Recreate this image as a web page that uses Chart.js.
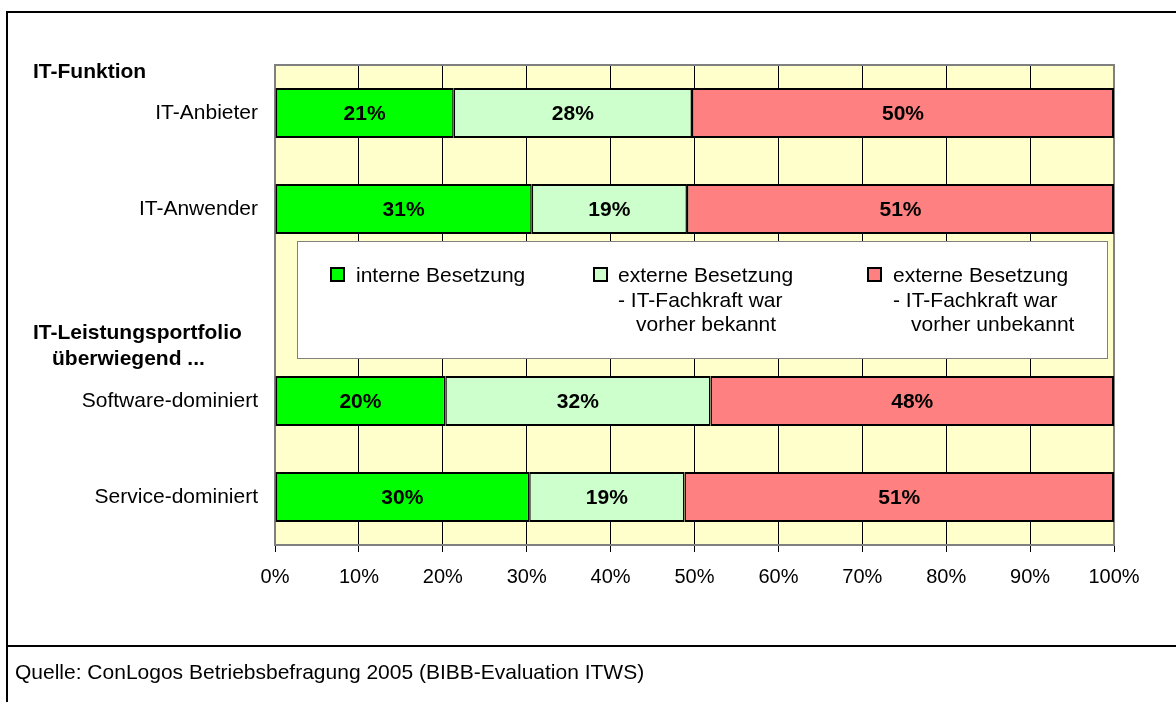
<!DOCTYPE html>
<html>
<head>
<meta charset="utf-8">
<script src="https://cdn.jsdelivr.net/npm/chart.js@4/dist/chart.umd.min.js"></script>
<style>
  html, body { margin: 0; padding: 0; background: #fff; }
  #wrap { position: relative; width: 1176px; height: 702px; }
</style>
</head>
<body>
<div id="wrap"><canvas id="c" width="1176" height="702"></canvas></div>
<script>
// ---- data ----
const categories = ['IT-Anbieter', 'IT-Anwender', '', 'Software-dominiert', 'Service-dominiert'];
const interneBesetzung = [21.3, 30.6, null, 20.3, 30.3];
const externBekannt    = [28.4, 18.5, null, 31.6, 18.5];
const externUnbekannt  = [50.3, 50.9, null, 48.1, 51.2];
const seriesLabels = [
  ['interne Besetzung'],
  ['externe Besetzung', '- IT-Fachkraft war', 'vorher bekannt'],
  ['externe Besetzung', '- IT-Fachkraft war', 'vorher unbekannt']
];
const seriesColors = ['#00FF00', '#CCFFCC', '#FF8080'];
const tickValues = [0, 10, 20, 30, 40, 50, 60, 70, 80, 90, 100];
const groupHeaders = [['IT-Funktion'], ['IT-Leistungsportfolio', 'überwiegend ...']];
const sourceNote = 'Quelle: ConLogos Betriebsbefragung 2005 (BIBB-Evaluation ITWS)';

const FONT = '"Liberation Sans", Arial, sans-serif';

const bgPlugin = {
  id: 'bg',
  beforeDraw(chart) {
    const ctx = chart.ctx, a = chart.chartArea;
    ctx.save();
    ctx.fillStyle = '#fff';
    ctx.fillRect(0, 0, chart.width, chart.height);
    ctx.fillStyle = '#FFFFCC';
    ctx.fillRect(a.left, a.top, a.right - a.left, a.bottom - a.top);
    ctx.restore();
  },
  beforeDatasetsDraw(chart) {
    const ctx = chart.ctx, a = chart.chartArea;
    ctx.save();
    ctx.strokeStyle = '#808080';
    ctx.lineWidth = 2;
    ctx.beginPath();
    ctx.moveTo(a.left, a.top);
    ctx.lineTo(a.right, a.top);
    ctx.lineTo(a.right, a.bottom);
    ctx.stroke();
    ctx.restore();
  }
};

const labelPlugin = {
  id: 'vals',
  afterDatasetsDraw(chart) {
    const ctx = chart.ctx;
    ctx.save();
    ctx.font = 'bold 21px ' + FONT;
    ctx.fillStyle = '#000';
    ctx.textAlign = 'center';
    ctx.textBaseline = 'middle';
    chart.data.datasets.forEach((ds, di) => {
      const meta = chart.getDatasetMeta(di);
      meta.data.forEach((el, i) => {
        const v = ds.data[i];
        if (v == null) return;
        const p = el.getProps(['x', 'base', 'y'], true);
        ctx.fillText(Math.round(v) + '%', (p.x + p.base) / 2, p.y + 1);
      });
    });
    ctx.restore();
  }
};

const decoPlugin = {
  id: 'deco',
  afterDraw(chart) {
    const ctx = chart.ctx;
    ctx.save();
    // legend box
    ctx.fillStyle = '#fff';
    ctx.fillRect(297, 241, 810, 117);
    ctx.strokeStyle = '#808080';
    ctx.lineWidth = 1;
    ctx.strokeRect(297.5, 241.5, 810, 117);
    const itemX = [330, 593, 867];
    const textX = [356, 618, 893];
    const indent = [0, 0, 18];
    ctx.font = '21px ' + FONT;
    ctx.textAlign = 'left';
    ctx.textBaseline = 'alphabetic';
    seriesLabels.forEach((lines, i) => {
      ctx.fillStyle = '#000';
      ctx.fillRect(itemX[i], 267, 15, 15);
      ctx.fillStyle = seriesColors[i];
      ctx.fillRect(itemX[i] + 2, 269, 11, 11);
      ctx.fillStyle = '#000';
      lines.forEach((t, j) => {
        ctx.fillText(t, textX[i] + indent[j], 282 + j * 24.5);
      });
    });
    // group headers
    ctx.font = 'bold 21px ' + FONT;
    ctx.fillText(groupHeaders[0][0], 33, 78);
    ctx.fillText(groupHeaders[1][0], 33, 339);
    ctx.fillText(groupHeaders[1][1], 52, 365);
    // frame
    ctx.strokeStyle = '#000';
    ctx.lineWidth = 2;
    ctx.beginPath();
    ctx.moveTo(1176, 12); ctx.lineTo(7, 12); ctx.lineTo(7, 702);
    ctx.moveTo(7, 646); ctx.lineTo(1176, 646);
    ctx.stroke();
    ctx.font = '21px ' + FONT;
    ctx.fillText(sourceNote, 15, 679);
    ctx.restore();
  }
};

const mk = (label, data, color, bw) => ({
  label, data, backgroundColor: color, borderColor: '#000',
  borderWidth: bw, borderSkipped: false, barPercentage: 0.52, categoryPercentage: 1.0
});

new Chart(document.getElementById('c'), {
  type: 'bar',
  data: {
    labels: categories,
    datasets: [
      mk(seriesLabels[0].join(' '), interneBesetzung, seriesColors[0], {left: 2, right: 1.5, top: 2, bottom: 2}),
      mk(seriesLabels[1].join(' '), externBekannt, seriesColors[1], {left: 1.5, right: 1.5, top: 2, bottom: 2}),
      mk(seriesLabels[2].join(' '), externUnbekannt, seriesColors[2], {left: 1.5, right: 2, top: 2, bottom: 2})
    ]
  },
  options: {
    indexAxis: 'y',
    responsive: false,
    animation: false,
    events: [],
    layout: { padding: { top: 65, right: 62, bottom: 0, left: 0 } },
    plugins: { legend: { display: false }, tooltip: { enabled: false } },
    scales: {
      x: {
        stacked: true, min: 0, max: 100,
        afterBuildTicks(scale) { scale.ticks = tickValues.map(v => ({ value: v })); },
        afterFit(scale) { scale.height = 702 - 545; },
        grid: { color: '#000', lineWidth: 1, tickLength: 7, tickColor: '#000' },
        border: { color: '#808080', width: 2 },
        ticks: { color: '#000', font: { family: FONT, size: 20 }, padding: 13, maxRotation: 0,
                 callback: v => v + '%' }
      },
      y: {
        stacked: true,
        afterFit(scale) { scale.width = 275; },
        grid: { display: false, drawTicks: false },
        border: { color: '#808080', width: 2 },
        ticks: { color: '#000', font: { family: FONT, size: 21 }, padding: 17 }
      }
    }
  },
  plugins: [bgPlugin, labelPlugin, decoPlugin]
});
</script>
</body>
</html>
